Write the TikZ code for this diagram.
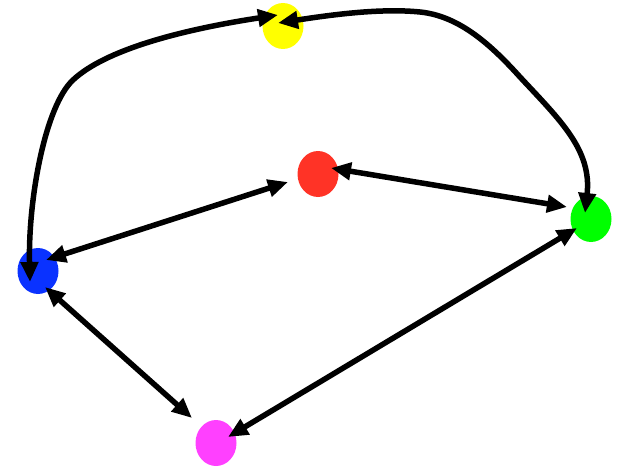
\documentclass[tikz,border=0pt]{standalone}
\usetikzlibrary{arrows.meta,shapes.geometric}
\definecolor{cyel}{RGB}{255,255,0}
\definecolor{cred}{RGB}{255,51,38}
\definecolor{cgrn}{RGB}{0,255,0}
\definecolor{cblu}{RGB}{10,50,255}
\definecolor{cmag}{RGB}{255,64,255}
\tikzset{
  dot/.style={ellipse, minimum width=41pt, minimum height=46pt, inner sep=0pt, draw=none},
  edge2/.style={line width=5.5pt, {Triangle[length=20pt,width=17pt]}-{Triangle[length=20pt,width=17pt]}},
}
\begin{document}
\begin{tikzpicture}[x=1pt,y=-1pt]
\useasboundingbox (0,0) rectangle (618,468);
\node[dot, fill=cyel] (y) at (283,26) {};
\node[dot, fill=cred] (r) at (318,174) {};
\node[dot, fill=cgrn] (g) at (591,219) {};
\node[dot, fill=cblu] (b) at (38,271) {};
\node[dot, fill=cmag] (m) at (216,443) {};
% endpoints
\coordinate (yb1) at (278,15);
\coordinate (yb2) at (30,282);
\coordinate (yg1) at (278,23);
\coordinate (yg2) at (585,213);
\coordinate (rb1) at (288,182);
\coordinate (rb2) at (46,260);
\coordinate (rg1) at (331,168);
\coordinate (rg2) at (567,207);
\coordinate (bm1) at (45,287);
\coordinate (bm2) at (192,418);
\coordinate (mg1) at (228,437);
\coordinate (mg2) at (577,228);
\draw[edge2] (yb1) .. controls (180,30) and (105,50) .. (73,80)
  .. controls (45,106) and (28,200) .. (yb2);
\draw[edge2] (yg1) .. controls (330,15) and (380,8) .. (420,12)
  .. controls (460,16) and (492,46) .. (520,77)
  .. controls (560,120) and (592,150) .. (yg2);
\draw[edge2] (rb1) -- (rb2);
\draw[edge2] (rg1) -- (rg2);
\draw[edge2] (bm1) -- (bm2);
\draw[edge2] (mg1) -- (mg2);
\end{tikzpicture}
\end{document}
